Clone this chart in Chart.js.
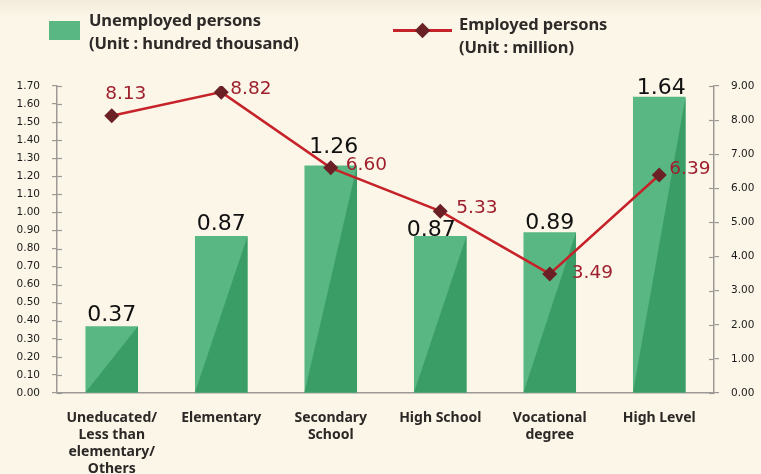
<!DOCTYPE html>
<html><head><meta charset="utf-8">
<script src="https://cdn.jsdelivr.net/npm/chart.js@4"></script>
<style>
html,body{margin:0;padding:0;}
body{width:761px;height:474px;background:#fcf6e8;position:relative;overflow:hidden;font-family:"Noto Sans",sans-serif;}
#shade{position:absolute;left:0;top:0;width:761px;height:16px;background:linear-gradient(#f2ebdb,rgba(252,246,232,0));}
#c{position:absolute;left:0;top:0;}
.leg{position:absolute;color:#2e2a28;font-weight:700;font-size:16.5px;line-height:23px;white-space:nowrap;letter-spacing:-0.1px;}
</style></head>
<body>
<div id="shade"></div>
<canvas id="c" width="761" height="474"></canvas>
<div style="position:absolute;left:49px;top:21px;width:31px;height:19px;background:#58b783"></div>
<div class="leg" style="left:89px;top:8px">Unemployed persons<br>(Unit : hundred thousand)</div>
<div style="position:absolute;left:393px;top:29px;width:59px;height:2.5px;background:#c62229"></div>
<div style="position:absolute;left:417px;top:25px;width:11px;height:11px;background:#6a2024;transform:rotate(45deg)"></div>
<div class="leg" style="left:459px;top:12px">Employed persons<br>(Unit : million)</div>
<script>
const categories = [
  ["Uneducated/", "Less than", "elementary/", "Others"],
  ["Elementary"],
  ["Secondary", "School"],
  ["High School"],
  ["Vocational", "degree"],
  ["High Level"]
];
const unemployed = [0.37, 0.87, 1.26, 0.87, 0.89, 1.64];
const employed = [8.13, 8.82, 6.60, 5.33, 3.49, 6.39];
const leftTicksMax = 1.7;
const rightTicksMax = 9;

const LIGHT = '#58b783', DARK = '#3a9d65';
const axisColor = '#9c9996';

// label offsets (styling only)
const barLabelDx = [0, 0, 3, -9, 0, 2];
const barLabelGap = [5, 6, 12, 0, 3, 3];
const lineLabelDx = [14, 9, 15, 16, 22, 10];
const lineLabelDy = [-21, -3, -3, -3, -1, -6];

const triPlugin = {
  id: 'tri',
  afterDatasetDraw(chart, args) {
    if (chart.data.datasets[args.index].type !== 'bar') return;
    const ctx = chart.ctx;
    ctx.save();
    ctx.fillStyle = DARK;
    args.meta.data.forEach(el => {
      const p = el.getProps(['x', 'y', 'base', 'width'], true);
      const l = p.x - p.width / 2, r = p.x + p.width / 2;
      ctx.beginPath();
      ctx.moveTo(l, p.base);
      ctx.lineTo(r, p.base);
      ctx.lineTo(r, p.y);
      ctx.closePath();
      ctx.fill();
    });
    ctx.restore();
  }
};

const innerTicks = {
  id: 'innerTicks',
  afterDraw(chart) {
    const ctx = chart.ctx;
    ctx.save();
    ctx.strokeStyle = axisColor;
    ctx.lineWidth = 1.2;
    [['y', 1], ['y1', -1]].forEach(([id, dir]) => {
      const s = chart.scales[id];
      const x0 = id === 'y' ? s.right : s.left;
      s.ticks.forEach(t => {
        const y = Math.round(s.getPixelForValue(t.value)) + 0.5;
        ctx.beginPath();
        ctx.moveTo(x0, y);
        ctx.lineTo(x0 + dir * 5, y);
        ctx.stroke();
      });
    });
    ctx.restore();
  }
};

const labelPlugin = {
  id: 'vals',
  afterDatasetsDraw(chart) {
    const ctx = chart.ctx;
    ctx.save();
    chart.data.datasets.forEach((ds, di) => {
      const meta = chart.getDatasetMeta(di);
      meta.data.forEach((el, i) => {
        const p = el.getProps(['x', 'y'], true);
        if (ds.type === 'bar') {
          ctx.font = '22px "DejaVu Sans"';
          ctx.fillStyle = '#111111';
          ctx.textAlign = 'center';
          ctx.textBaseline = 'alphabetic';
          ctx.fillText(ds.data[i].toFixed(2), p.x + barLabelDx[i], p.y - barLabelGap[i]);
        } else {
          ctx.font = '18.5px "DejaVu Sans"';
          ctx.fillStyle = '#9e1f2d';
          ctx.textBaseline = 'middle';
          ctx.textAlign = i === 0 ? 'center' : 'left';
          ctx.fillText(ds.data[i].toFixed(2), p.x + lineLabelDx[i], p.y + lineLabelDy[i]);
        }
      });
    });
    ctx.restore();
  }
};

const tickFont = { family: '"DejaVu Sans"', size: 10.5 };

new Chart(document.getElementById('c'), {
  data: {
    labels: categories,
    datasets: [
      {
        type: 'line', label: 'Employed persons', data: employed, yAxisID: 'y1', order: 0,
        borderColor: '#c62229', borderWidth: 2.5, tension: 0,
        pointStyle: 'rectRot', pointRadius: 7.5, pointHoverRadius: 7.5,
        pointBackgroundColor: '#6a2024', pointBorderColor: '#6a2024', pointBorderWidth: 0
      },
      {
        type: 'bar', label: 'Unemployed persons', data: unemployed, yAxisID: 'y', order: 1,
        backgroundColor: LIGHT, borderWidth: 0,
        categoryPercentage: 1.0, barPercentage: 0.48
      }
    ]
  },
  options: {
    responsive: false,
    devicePixelRatio: 1,
    animation: false,
    layout: { padding: { top: 86, left: 0, right: 0, bottom: 0 } },
    plugins: { legend: { display: false }, tooltip: { enabled: false } },
    scales: {
      x: {
        offset: true,
        grid: { display: false, drawTicks: false },
        border: { display: true, color: axisColor, width: 1.5 },
        ticks: {
          color: '#2b2826', padding: 16, maxRotation: 0, minRotation: 0, autoSkip: false,
          font: { family: '"Noto Sans"', size: 14, weight: '700', lineHeight: 1.22 }
        },
        afterFit: s => { s.height = 81; }
      },
      y: {
        position: 'left', min: 0, max: leftTicksMax,
        grid: { drawOnChartArea: false, drawTicks: true, tickLength: 5, color: axisColor, lineWidth: 1.2 },
        border: { display: true, color: axisColor, width: 1.5 },
        ticks: { stepSize: 0.1, padding: 12, color: '#1a1a1a', font: tickFont, callback: v => Number(v).toFixed(2) },
        afterFit: s => { s.width = 57; }
      },
      y1: {
        position: 'right', min: 0, max: rightTicksMax,
        grid: { drawOnChartArea: false, drawTicks: true, tickLength: 5, color: axisColor, lineWidth: 1.2 },
        border: { display: true, color: axisColor, width: 1.5 },
        ticks: { stepSize: 1, padding: 12, color: '#1a1a1a', font: tickFont, callback: v => Number(v).toFixed(2) },
        afterFit: s => { s.width = 47; }
      }
    }
  },
  plugins: [triPlugin, innerTicks, labelPlugin]
});
</script>
</body></html>
